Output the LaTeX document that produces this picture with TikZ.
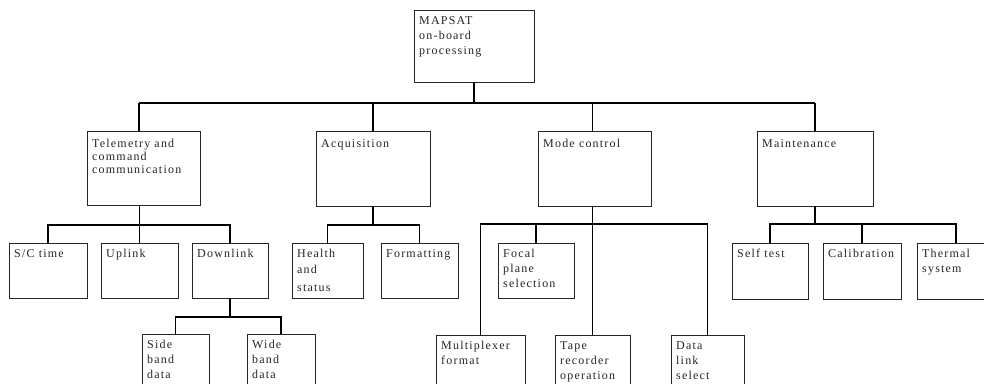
\documentclass[tikz,border=0pt]{standalone}
\usepackage{fontspec}
\setmainfont{Liberation Serif}[LetterSpace=10]
\usetikzlibrary{calc}
\tikzset{
  box/.style={draw=black!85, line width=0.8pt, inner sep=0pt, outer sep=0pt, anchor=north west, minimum width=#1},
  box/.default=80pt,
  lbl/.style={anchor=north west, inner sep=0pt, align=left, text=black!85,
    font=\fontsize{12}{15}\selectfont},
  lblt/.style={lbl, font=\fontsize{12}{13}\selectfont},
  conn/.style={draw=black, line width=1.3pt}
}
\begin{document}
\begin{tikzpicture}[x=1pt, y=-1pt]
\useasboundingbox (0,0) rectangle (984,383);
\clip (0,0) rectangle (984,383);
\fill[white] (0,0) rectangle (984,383);

% root
\node[box=120pt, minimum height=72pt] (root) at (414,10) {};
% level 1
\node[box=113pt, minimum height=74pt] (tele) at (87,131) {};
\node[box=114pt, minimum height=75pt] (acq) at (316,131) {};
\node[box=113pt, minimum height=75pt] (mode) at (538,131) {};
\node[box=116pt, minimum height=75pt] (maint) at (757,131) {};
% level 2
\node[box=78pt, minimum height=55pt] (sct) at (9,243) {};
\node[box=77pt, minimum height=55pt] (upl) at (101,243) {};
\node[box=76pt, minimum height=55pt] (dnl) at (192,243) {};
\node[box=71pt, minimum height=55pt] (hlth) at (292,243) {};
\node[box=77pt, minimum height=55pt] (fmt) at (381,243) {};
\node[box=76pt, minimum height=55pt] (foc) at (498,243) {};
\node[box=76pt, minimum height=56pt] (self) at (732,243) {};
\node[box=78pt, minimum height=56pt] (cal) at (823,243) {};
\node[box=78pt, minimum height=56pt] (thm) at (917,243) {};
% level 3
\node[box=67pt, minimum height=70pt] (side) at (142,334) {};
\node[box=68pt, minimum height=70pt] (wide) at (247,334) {};
\node[box=89pt, minimum height=70pt] (mux) at (436,335) {};
\node[box=75pt, minimum height=70pt] (tape) at (555,335) {};
\node[box=73pt, minimum height=70pt] (dlk) at (671,335) {};

% labels
\node[lbl] (root-t) at ($(root.north west)+(5,6.1)$) {MAPSAT\\on-board\\processing};
\node[lblt] (tele-t) at ($(tele.north west)+(5,8.1)$) {Telemetry and\\command\\communication};
\node[lbl] (acq-t) at ($(acq.north west)+(5,8.1)$) {Acquisition};
\node[lbl] (mode-t) at ($(mode.north west)+(5,8.1)$) {Mode control};
\node[lbl] (maint-t) at ($(maint.north west)+(5,8.1)$) {Maintenance};
\node[lbl] (sct-t) at ($(sct.north west)+(5,6.1)$) {S/C time};
\node[lbl] (upl-t) at ($(upl.north west)+(5,6.1)$) {Uplink};
\node[lbl] (dnl-t) at ($(dnl.north west)+(5,6.1)$) {Downlink};
\node[lbl] (hlth-t) at ($(hlth.north west)+(5,6.1)$) {Health\\[1pt]and\\[3pt]status};
\node[lbl] (fmt-t) at ($(fmt.north west)+(5,6.1)$) {Formatting};
\node[lbl] (foc-t) at ($(foc.north west)+(5,6.1)$) {Focal\\plane\\selection};
\node[lbl] (self-t) at ($(self.north west)+(5,6.1)$) {Self test};
\node[lbl] (cal-t) at ($(cal.north west)+(5,6.1)$) {Calibration};
\node[lbl] (thm-t) at ($(thm.north west)+(5,6.1)$) {Thermal\\system};
\node[lbl] (side-t) at ($(side.north west)+(5,6.1)$) {Side\\band\\data};
\node[lbl] (wide-t) at ($(wide.north west)+(5,6.1)$) {Wide\\band\\data};
\node[lbl] (mux-t) at ($(mux.north west)+(5,6.1)$) {Multiplexer\\format};
\node[lbl] (tape-t) at ($(tape.north west)+(5,6.1)$) {Tape\\recorder\\operation};
\node[lbl] (dlk-t) at ($(dlk.north west)+(5,6.1)$) {Data\\link\\select};

% bus levels
\coordinate (b0) at (0,103);
\coordinate (b1) at (0,225);
\coordinate (b1m) at (0,224);
\coordinate (b2) at (0,317);
\coordinate (tstem) at (139,0);

% root to level 1
\draw[conn] (root.south) -- (root.south |- b0);
\draw[conn] (tstem |- b0) -- (maint.north |- b0);
\draw[conn] (tstem |- b0) -- (tstem |- tele.north);
\draw[conn] (acq.north |- b0) -- (acq.north);
\draw[conn] (tape.north |- b0) -- (tape.north |- mode.north);
\draw[conn] (maint.north |- b0) -- (maint.north);

% telemetry
\draw[conn] (upl.north |- tele.south) -- (upl.north);
\draw[conn] (sct.north) -- (sct.north |- b1) -- (dnl.north |- b1) -- (dnl.north);
% acquisition
\draw[conn] (acq.south) -- (acq.south |- b1);
\draw[conn] (hlth.north) -- (hlth.north |- b1) -- (fmt.north |- b1) -- (fmt.north);
% mode control
\draw[conn] (tape.north |- mode.south) -- (tape.north);
\draw[conn] (mux.north) -- (mux.north |- b1m) -- (dlk.north |- b1m) -- (dlk.north);
\draw[conn] (foc.north |- b1m) -- (foc.north);
% maintenance
\draw[conn] (maint.south) -- (maint.south |- b1m);
\draw[conn] (self.north) -- (self.north |- b1m) -- (thm.north |- b1m) -- (thm.north);
\draw[conn] (cal.north |- b1m) -- (cal.north);
% downlink
\draw[conn] (dnl.south) -- (dnl.south |- b2);
\draw[conn] (side.north) -- (side.north |- b2) -- (wide.north |- b2) -- (wide.north);
\end{tikzpicture}
\end{document}
